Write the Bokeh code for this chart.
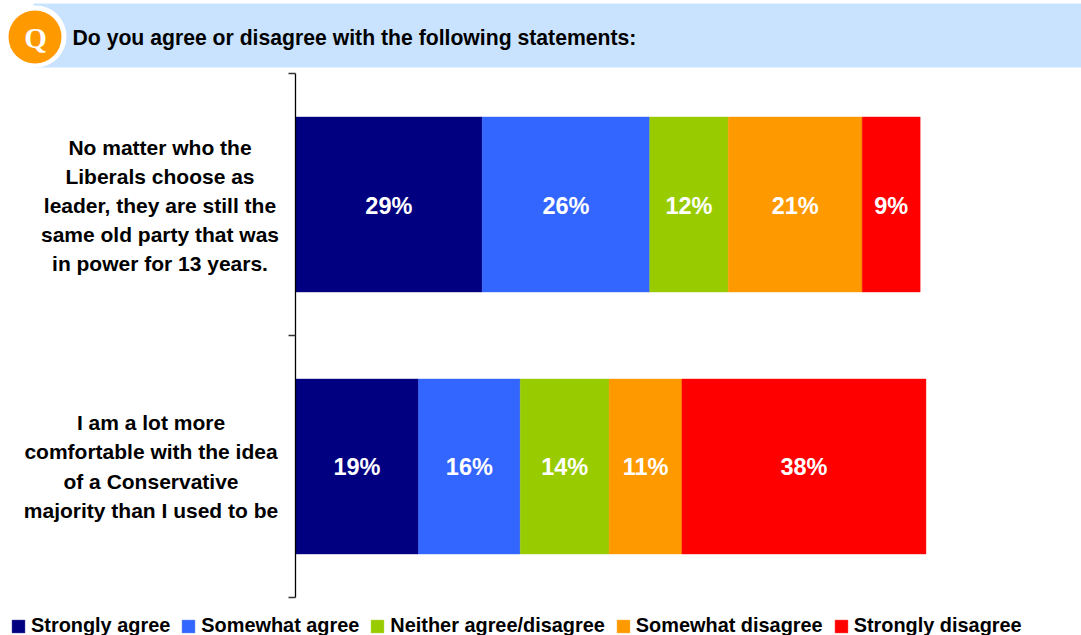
from bokeh.plotting import figure
from bokeh.models import ColumnDataSource, Range1d, FixedTicker, Legend, LegendItem
from bokeh.core.properties import value
from bokeh.embed import file_html
from bokeh.resources import INLINE

statements = [
    "I am a lot more\ncomfortable with the idea\nof a Conservative\nmajority than I used to be",
    "No matter who the\nLiberals choose as\nleader, they are still the\nsame old party that was\nin power for 13 years.",
]
series = ["Strongly agree", "Somewhat agree", "Neither agree/disagree", "Somewhat disagree", "Strongly disagree"]
colors = ["#000080", "#3366FF", "#99CC00", "#FF9900", "#FF0000"]
strongly_agree = [19.1, 29.0]
somewhat_agree = [15.8, 26.0]
neither = [13.8, 12.2]
somewhat_disagree = [11.3, 20.8]
strongly_disagree = [37.9, 9.0]
labels_row = {
    0: ["19%", "16%", "14%", "11%", "38%"],
    1: ["29%", "26%", "12%", "21%", "9%"],
}
title = "Do you agree or disagree with the following statements:"
FONT = "Liberation Sans"
W, H = 1081, 635
PX_X = 6.44   # pixels per percent
PX_Y = 262.0  # pixels per row
X0, Y0 = 295.0, 597.0

p = figure(width=W, height=H, output_backend="svg", toolbar_location=None,
           x_range=Range1d(-X0 / PX_X, (W - X0) / PX_X),
           y_range=Range1d((Y0 - H) / PX_Y, Y0 / PX_Y),
           min_border=0, outline_line_color=None,
           background_fill_color="white", border_fill_color="white")
p.extra_x_ranges["px"] = Range1d(0, W)
p.extra_y_ranges["px"] = Range1d(H, 0)
p.grid.visible = False
p.xaxis.visible = False
p.yaxis.fixed_location = 0
p.yaxis.bounds = (0, 2)
p.yaxis.ticker = FixedTicker(ticks=[0, 1, 2])
p.yaxis.major_label_text_font_size = "0px"
p.yaxis.major_label_text_color = None
p.yaxis.minor_tick_line_color = None
p.yaxis.major_tick_out = 7
p.yaxis.major_tick_in = 0
p.yaxis.axis_line_color = "#000000"
p.yaxis.axis_line_width = 1.3
p.yaxis.major_tick_line_color = "#333333"
p.yaxis.major_tick_line_width = 1.3

# header
p.quad(left=[33], right=[W], top=[3], bottom=[67], color="#C9E3FF", line_color=None,
       x_range_name="px", y_range_name="px")
p.scatter(x=[35], y=[36], size=62, color="white", line_color=None, x_range_name="px", y_range_name="px")
p.scatter(x=[34.5], y=[36.5], size=53, color="#FF9900", line_color=None, x_range_name="px", y_range_name="px")
p.text(x=[35], y=[37], text=["Q"], text_font=value("Liberation Serif"), text_font_size="29px",
       text_font_style="bold", text_color="white", text_align="center", text_baseline="middle",
       x_range_name="px", y_range_name="px")
p.text(x=[72], y=[37], text=[title], text_font=value(FONT), text_font_size="21.2px", text_font_style="bold",
       text_color="black", text_align="left", text_baseline="middle", x_range_name="px", y_range_name="px")

# bars
rows = [0.5, 1.5]
data = dict(y=rows, s0=strongly_agree, s1=somewhat_agree, s2=neither, s3=somewhat_disagree, s4=strongly_disagree)
src = ColumnDataSource(data)
keys = ["s0", "s1", "s2", "s3", "s4"]
rend = p.hbar_stack(keys, y="y", height=0.668, fill_color=colors, line_color=colors, line_width=0.4, source=src)

# value labels
xs, ys, ts = [], [], []
for r, y in enumerate(rows):
    c = 0.0
    for k_i, k in enumerate(keys):
        v = data[k][r]
        xs.append(c + v / 2)
        ys.append(y - r / PX_Y)
        ts.append(labels_row[r][k_i])
        c += v
p.text(x=xs, y=ys, text=ts, text_font=value(FONT), text_font_size="23.5px", text_font_style="bold",
       text_color="white", text_align="center", text_baseline="middle")

# category labels
p.text(x=[-144.5 / PX_X, -135.5 / PX_X], y=[rows[0], rows[1] - 1 / PX_Y], text=statements,
       text_font=value(FONT), text_font_size="21px",
       text_font_style="bold", text_color="black", text_align="center", text_baseline="middle",
       text_line_height=1.27)

# legend
leg = Legend(items=[LegendItem(label=s, renderers=[r]) for s, r in zip(series, rend)],
             orientation="horizontal", location=(10, -2), margin=0, padding=0, spacing=10,
             glyph_width=16, glyph_height=16, label_standoff=5, border_line_color=None,
             background_fill_alpha=0, label_text_font=FONT, label_text_font_size="19.9px",
             label_text_font_style="bold", label_text_color="black", label_height=20)
p.add_layout(leg, "center")

open("out.html", "w").write(file_html(p, INLINE))
